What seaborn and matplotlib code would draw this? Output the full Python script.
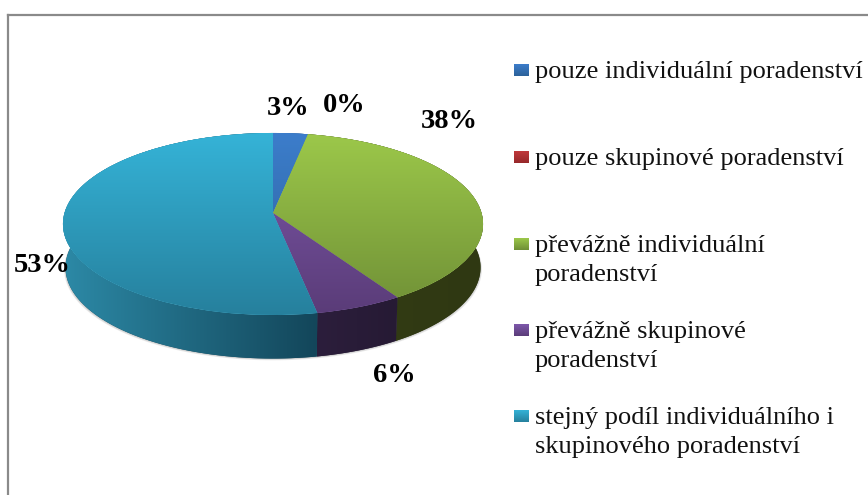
import numpy as np
import matplotlib
matplotlib.use('Agg')
import matplotlib.pyplot as plt
import matplotlib.transforms as mtrans
from matplotlib.colors import to_rgb
from matplotlib.patches import Polygon
import seaborn as sns

#values and labels
categories = [['pouze individuální poradenství'],
              ['pouze skupinové poradenství'],
              ['převážně individuální', 'poradenství'],
              ['převážně skupinové', 'poradenství'],
              ['stejný podíl individuálního i', 'skupinového poradenství']]
values = [3, 0, 38, 6, 53]
value_labels = ['3%', '0%', '38%', '6%', '53%']

#colours: top of the gradient, bottom of the gradient
face_light = ['#3c7dcb', '#c0393c', '#9cc84a', '#7e58ab', '#35b3d7']
face_dark = ['#2c6199', '#96282a', '#6f8f36', '#5a3c78', '#26809d']
#side wall: left end, right end
wall_left = ['#2c5a90', '#7a1e20', '#343d16', '#2c1e3c', '#2c89a6']
wall_right = ['#2c5a90', '#7a1e20', '#2f3812', '#261a34', '#13465a']

#where things sit, in pixels of the picture
label_x = [267, 323, 421, 373, 14]
label_y = [115, 112, 128, 382, 272]
legend_y = [78, 165, 252, 338, 424]

CX, CY = 273, 213
A, B, K = 208.5, 89.7, 0.1209
DEPTH = 43.5
SHRINK = 0.988


class Perspective(mtrans.Transform):
    input_dims = 2
    output_dims = 2

    def transform_non_affine(self, v):
        v = np.asarray(v)
        w = 1 + K * v[:, 1]
        return np.column_stack([CX + A * v[:, 0] / w, CY - B * v[:, 1] / w])


def gradient(ax, c1, c2, extent, horizontal=False, clip=None, zorder=2):
    t = np.linspace(0, 1, 128)[:, None]
    img = (1 - t) * np.array(to_rgb(c1)) + t * np.array(to_rgb(c2))
    img = img[None, :, :] if horizontal else img[:, None, :]
    im = ax.imshow(img, extent=extent, aspect='auto', zorder=zorder, interpolation='bilinear')
    if clip is not None:
        im.set_clip_path(clip)
    return im


def lower_rim(rim):
    return np.column_stack([CX + SHRINK * (rim[:, 0] - CX), rim[:, 1] + DEPTH])


sns.set_theme(style='white')
plt.rcParams['font.family'] = ['Liberation Serif', 'DejaVu Serif']

fig = plt.figure(figsize=(8.68, 4.95), dpi=100)
ax = fig.add_axes([8 / 868, 0, 860 / 868, 480 / 495])
persp = Perspective()

#soft shadow under the pie
th = np.linspace(0, 2 * np.pi, 300)
outline = lower_rim(persp.transform_non_affine(np.column_stack([np.sin(th), np.cos(th)])))
for grow in [3, 2, 1]:
    shadow = np.column_stack([CX + (outline[:, 0] - CX) * (1 + grow / 450), outline[:, 1] + grow * 0.6])
    ax.add_patch(Polygon(shadow, closed=True, facecolor='#808080', alpha=0.15, linewidth=0, zorder=0.5))

#side walls first, the top face goes over them
ends = np.cumsum(values) / 100
starts = ends - np.array(values) / 100
for i in range(len(values)):
    if values[i] == 0:
        continue
    th = 2 * np.pi * np.linspace(starts[i], ends[i], 120)
    rim = persp.transform_non_affine(np.column_stack([np.sin(th), np.cos(th)]))
    low = lower_rim(rim)
    wall = Polygon(np.vstack([rim, low[::-1]]), closed=True, facecolor=wall_right[i], linewidth=0,
                   transform=ax.transData, zorder=1)
    ax.add_patch(wall)
    x0 = max(rim[:, 0].min(), 63)
    x1 = rim[:, 0].max()
    gradient(ax, wall_left[i], wall_right[i], (x0, x1, 400, 100), horizontal=True, clip=wall, zorder=1)

#the pie itself, squashed by the perspective transform
wedges, _ = ax.pie(values, colors=face_light, startangle=90, counterclock=False,
                   radius=1, wedgeprops={'linewidth': 0, 'zorder': 2})
for i, wedge in enumerate(wedges):
    wedge.set_transform(persp + ax.transData)
    wedge.set_zorder(2)
    if values[i] > 0:
        gradient(ax, face_light[i], face_dark[i], (60, 490, 315, 133), clip=wedge, zorder=3)

for i in range(len(values)):
    ax.text(label_x[i], label_y[i], value_labels[i], fontsize=20.5, fontweight='bold',
            ha='left', va='baseline', color='black', zorder=5)

#legend
for i in range(len(categories)):
    gradient(ax, face_light[i], face_dark[i], (514, 529, legend_y[i] - 2, legend_y[i] - 14), zorder=4)
    for j, line in enumerate(categories[i]):
        ax.text(535, legend_y[i] + j * 28.5, line, fontsize=19, ha='left', va='baseline',
                color='#111111', zorder=5)

ax.set_aspect('auto')
ax.set_xlim(8, 868)
ax.set_ylim(495, 15)
ax.set_xticks([])
ax.set_yticks([])
ax.set_frame_on(True)
for side in ['right', 'bottom']:
    ax.spines[side].set_visible(False)
for side in ['left', 'top']:
    ax.spines[side].set_visible(True)
    ax.spines[side].set_color('#8a8a8a')
    ax.spines[side].set_linewidth(1.6)

fig.savefig('out.png', dpi=100)
